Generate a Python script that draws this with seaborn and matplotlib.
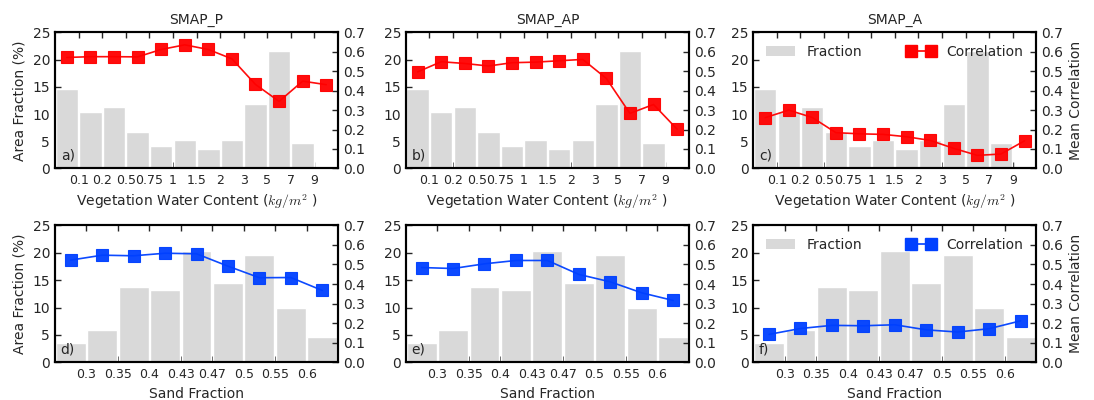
import numpy as np
import pandas as pd
import matplotlib
matplotlib.use("Agg")
import matplotlib.pyplot as plt
import seaborn as sns
from matplotlib.patches import Patch
from matplotlib.lines import Line2D

# ---------------- data ----------------
vwc_ticks = ['0.1', '0.2', '0.5', '0.75', '1', '1.5', '2', '3', '5', '7', '9']
vwc_fraction = [14.6, 10.4, 11.3, 6.7, 4.1, 5.2, 3.6, 5.2, 11.8, 21.5, 4.7, 0.0]
corr_vwc_smap_p = [0.571, 0.575, 0.575, 0.574, 0.612, 0.636, 0.612, 0.564, 0.432, 0.345, 0.449, 0.431]
corr_vwc_smap_ap = [0.497, 0.549, 0.540, 0.527, 0.544, 0.547, 0.554, 0.561, 0.463, 0.283, 0.329, 0.202]
corr_vwc_smap_a = [0.261, 0.300, 0.262, 0.184, 0.178, 0.175, 0.163, 0.144, 0.103, 0.067, 0.074, 0.142]

sand_ticks = ['0.3', '0.35', '0.4', '0.43', '0.47', '0.5', '0.55', '0.6']
sand_fraction = [3.5, 5.9, 13.7, 13.2, 20.3, 14.4, 19.5, 9.9, 4.6]
corr_sand_smap_p = [0.522, 0.547, 0.544, 0.557, 0.554, 0.491, 0.432, 0.433, 0.367]
corr_sand_smap_ap = [0.484, 0.479, 0.503, 0.520, 0.520, 0.449, 0.411, 0.355, 0.316]
corr_sand_smap_a = [0.143, 0.173, 0.189, 0.187, 0.192, 0.166, 0.155, 0.172, 0.212]

titles = ['SMAP_P', 'SMAP_AP', 'SMAP_A']
panel_labels = ['a)', 'b)', 'c)', 'd)', 'e)', 'f)']

# ---------------- style ----------------
sns.set_style("ticks", {"xtick.direction": "in", "ytick.direction": "in"})
plt.rcParams['font.family'] = ['DejaVu Sans']
plt.rcParams['axes.linewidth'] = 1.5
plt.rcParams['mathtext.fontset'] = 'cm'

BAR_COLOR = '#d9d9d9'
RED = '#ff0000'
BLUE = '#0040ff'

fig = plt.figure(figsize=(10.94, 4.0), dpi=100)
lefts = [0.0503, 0.371, 0.6886]
width = 0.2587
rows = [(0.579, 0.340), (0.094, 0.343)]


def panel(ax, fraction, corr, ticks, color, label, xlabel, first_col, last_col, title):
    n = len(fraction)
    df = pd.DataFrame({'bin': np.arange(n), 'fraction': fraction})
    sns.barplot(data=df, x='bin', y='fraction', color=BAR_COLOR, saturation=1,
                width=0.95, ax=ax, order=list(range(n)), zorder=1)
    ax2 = ax.twinx()
    ldf = pd.DataFrame({'x': np.arange(n), 'corr': corr})
    sns.lineplot(data=ldf, x='x', y='corr', ax=ax2, color=color, marker='s',
                 markersize=8, markeredgecolor=color, markeredgewidth=0.8,
                 linewidth=1.2, alpha=0.95)
    for a in (ax, ax2):
        a.set_xlim(-0.5, n - 0.5)
    ax.set_ylim(0, 25)
    ax2.set_ylim(0, 0.7)
    ax.set_xticks(np.arange(n - 1) + 0.5)
    ax.set_xticklabels(ticks, fontsize=9)
    ax.set_yticks(np.arange(0, 26, 5))
    ax.set_yticklabels([str(v) for v in range(0, 26, 5)], fontsize=10)
    ax2.set_yticks(np.arange(0, 0.71, 0.1))
    ax2.set_yticklabels([f"{v:.1f}" for v in np.arange(0, 0.71, 0.1)], fontsize=10)
    ax.tick_params(axis='x', direction='in', top=True, bottom=True, length=4, width=1, pad=4)
    ax.tick_params(axis='y', direction='in', left=True, right=False, length=4, width=1)
    ax2.tick_params(axis='y', direction='in', right=True, left=False, length=4, width=1)
    for a in (ax, ax2):
        for sp in a.spines.values():
            sp.set_linewidth(1.5)
            sp.set_color('black')
    ax.set_xlabel(xlabel, fontsize=10, labelpad=4)
    ax.set_ylabel('Area Fraction (%)' if first_col else '', fontsize=10)
    ax2.set_ylabel('Mean Correlation' if last_col else '', fontsize=10)
    ax.text(0.02, 0.04, label, transform=ax.transAxes, fontsize=10,
            ha='left', va='bottom')
    if title:
        ax.set_title(title, fontsize=10, pad=6)
    if last_col:
        handles = [Patch(facecolor=BAR_COLOR, edgecolor='none', label='Fraction'),
                   Line2D([], [], color=color, marker='s', markersize=8,
                          linewidth=1.2, label='Correlation')]
        ax2.legend(handles=handles, loc='upper center', ncol=2, frameon=False,
                   fontsize=10, numpoints=2, handlelength=2.1,
                   handletextpad=0.8, columnspacing=3.2,
                   bbox_to_anchor=(0.5, 1.0))
    return ax2


vwc_corrs = [corr_vwc_smap_p, corr_vwc_smap_ap, corr_vwc_smap_a]
sand_corrs = [corr_sand_smap_p, corr_sand_smap_ap, corr_sand_smap_a]

for i in range(3):
    ax = fig.add_axes([lefts[i], rows[0][0], width, rows[0][1]])
    panel(ax, vwc_fraction, vwc_corrs[i], vwc_ticks, RED, panel_labels[i],
          'Vegetation Water Content ($kg/m^2$ )', i == 0, i == 2, titles[i])
    ax = fig.add_axes([lefts[i], rows[1][0], width, rows[1][1]])
    panel(ax, sand_fraction, sand_corrs[i], sand_ticks, BLUE, panel_labels[3 + i],
          'Sand Fraction', i == 0, i == 2, None)

fig.savefig('out.png', dpi=100)
